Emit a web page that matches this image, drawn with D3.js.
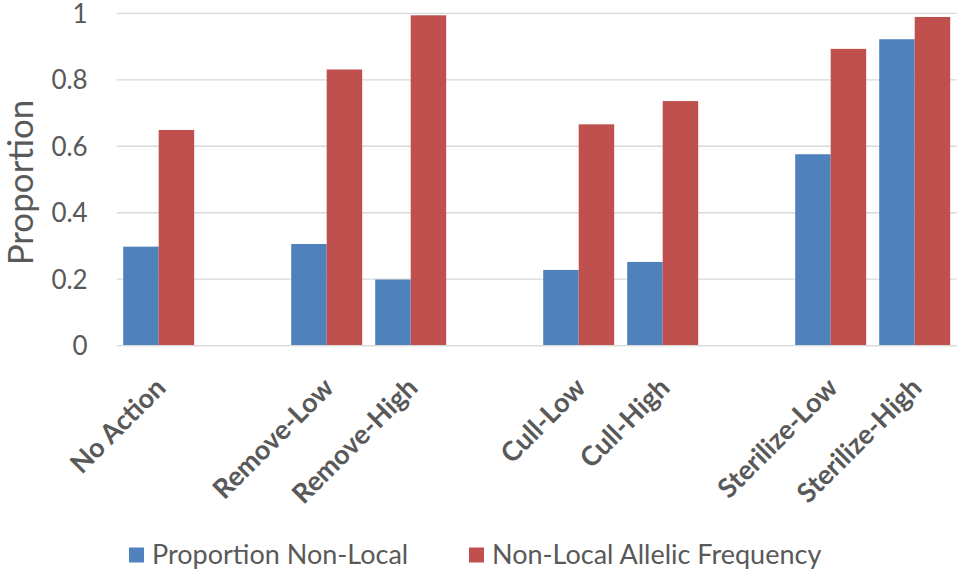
<!DOCTYPE html>
<html>
<head>
<meta charset="utf-8">
<script src="https://d3js.org/d3.v7.min.js"></script>
<style>
  body { margin: 0; background: #fff; }
  text { font-family: Lato, "Open Sans", sans-serif; fill: #595959; }
</style>
</head>
<body>
<div id="chart"></div>
<script>
// data (blank slots separate the treatment groups)
const categories = ["No Action", "", "Remove-Low", "Remove-High", " ", "Cull-Low", "Cull-High", "  ", "Sterilize-Low", "Sterilize-High"];
const seriesNames = ["Proportion Non-Local", "Non-Local Allelic Frequency"];
const proportionNonLocal = [0.298, null, 0.306, 0.199, null, 0.228, 0.252, null, 0.576, 0.922];
const allelicFrequency = [0.649, null, 0.831, 0.994, null, 0.666, 0.736, null, 0.893, 0.989];
const yTicks = [0, 0.2, 0.4, 0.6, 0.8, 1];
const colors = ["#4F81BD", "#C0504D"];

const width = 970, height = 574;
const margin = {top: 13.3, right: 13.3, bottom: 228.3, left: 116.7};
const innerWidth = width - margin.left - margin.right;
const innerHeight = height - margin.top - margin.bottom;

const svg = d3.select("#chart").append("svg")
  .attr("width", width)
  .attr("height", height);

const g = svg.append("g").attr("transform", `translate(${margin.left},${margin.top})`);

const x0 = d3.scaleBand().domain(categories).range([0, innerWidth])
  .paddingInner(0.155).paddingOuter(0.0775);
const x1 = d3.scaleBand().domain([0, 1]).range([0, x0.bandwidth()]);
const y = d3.scaleLinear().domain([0, 1]).range([innerHeight, 0]);

// gridlines
g.append("g")
  .selectAll("line")
  .data(yTicks)
  .join("line")
  .attr("x1", 0).attr("x2", innerWidth)
  .attr("y1", d => y(d)).attr("y2", d => y(d))
  .attr("stroke", "#D9D9D9").attr("stroke-width", 1.3);

// y axis labels
const yAxis = g.append("g")
  .call(d3.axisLeft(y).tickValues(yTicks).tickFormat(d3.format("")).tickSize(0).tickPadding(29));
yAxis.select(".domain").remove();
yAxis.selectAll("text").style("font-size", "26px").attr("fill", "#595959").attr("dy", "0.35em");

// bars
const rows = categories.map((c, i) => ({cat: c, vals: [proportionNonLocal[i], allelicFrequency[i]]}));
g.append("g")
  .selectAll("g")
  .data(rows.filter(r => r.vals[0] !== null))
  .join("g")
  .attr("transform", d => `translate(${x0(d.cat)},0)`)
  .selectAll("rect")
  .data(d => d.vals.map((v, k) => ({k, v})))
  .join("rect")
  .attr("x", d => x1(d.k))
  .attr("y", d => y(d.v))
  .attr("width", x1.bandwidth())
  .attr("height", d => innerHeight - y(d.v))
  .attr("fill", d => colors[d.k]);

// x axis line (baseline)
g.append("line")
  .attr("x1", 0).attr("x2", innerWidth)
  .attr("y1", innerHeight).attr("y2", innerHeight)
  .attr("stroke", "#D9D9D9").attr("stroke-width", 1.3);

// category labels
g.append("g")
  .selectAll("text")
  .data(categories.filter(c => c.trim() !== ""))
  .join("text")
  .attr("transform", d => `translate(${x0(d) + x0.bandwidth() / 2 + 2},${innerHeight + 37}) rotate(-45)`)
  .attr("text-anchor", "end")
  .attr("dy", "0.35em")
  .style("font-size", "27px")
  .style("font-weight", "bold")
  .text(d => d);

// y axis title
svg.append("text")
  .attr("transform", `translate(33,${margin.top + innerHeight / 2 + 3}) rotate(-90)`)
  .attr("text-anchor", "middle")
  .style("font-size", "35px")
  .text("Proportion");

// legend
const legendX = [129, 469];
const legend = svg.append("g").selectAll("g")
  .data(seriesNames)
  .join("g")
  .attr("transform", (d, i) => `translate(${legendX[i]},555)`);
legend.append("rect")
  .attr("x", 0).attr("y", -7.5)
  .attr("width", 15).attr("height", 15)
  .attr("fill", (d, i) => colors[i]);
legend.append("text")
  .attr("x", 23).attr("dy", "0.35em")
  .style("font-size", "27px")
  .text(d => d);
</script>
</body>
</html>
